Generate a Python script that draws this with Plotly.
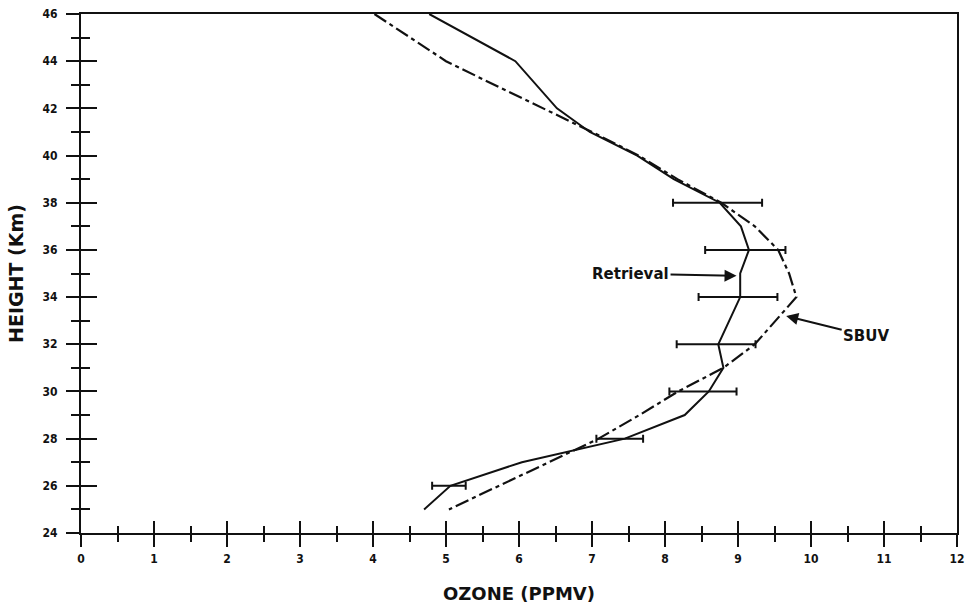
import plotly.graph_objects as go

# Ozone profiles: height (km) vs. mixing ratio (ppmv)
retrieval_height = [46, 44, 42, 41, 40, 39, 38, 37, 36, 35, 34, 33, 32, 31, 30, 29, 28, 27, 26, 25]
retrieval_ozone = [4.77, 5.95, 6.52, 6.97, 7.62, 8.12, 8.75, 9.04, 9.15, 9.03, 9.03, 8.88, 8.73, 8.80,
                   8.60, 8.27, 7.45, 6.04, 5.06, 4.70]

sbuv_height = [46, 44, 43, 42, 41, 40, 39, 38, 37, 36, 35, 34, 33, 32, 31, 30, 29, 28, 27, 26, 25]
sbuv_ozone = [4.02, 5.00, 5.66, 6.33, 7.00, 7.64, 8.17, 8.77, 9.23, 9.55, 9.70, 9.80, 9.52, 9.23,
              8.80, 8.18, 7.65, 7.09, 6.41, 5.72, 5.04]

# Retrieval uncertainty (half-width, ppmv) at even heights
err_height = [38, 36, 34, 32, 30, 28, 26]
err_center = [8.72, 9.10, 9.00, 8.70, 8.52, 7.38, 5.04]
err_half = [0.61, 0.55, 0.54, 0.54, 0.46, 0.32, 0.23]

x_ticks = list(range(0, 13))
y_ticks = list(range(24, 47, 2))

BLACK = "#111111"
TICK_FONT = dict(family="DejaVu Sans Condensed", size=12, color=BLACK, weight="bold")
NOTE_FONT = dict(family="DejaVu Sans", size=15, color=BLACK, weight="bold")

fig = go.Figure()

fig.add_trace(go.Scatter(
    x=retrieval_ozone, y=retrieval_height, mode="lines", name="Retrieval",
    line=dict(color=BLACK, width=2), showlegend=False,
))
fig.add_trace(go.Scatter(
    x=sbuv_ozone, y=sbuv_height, mode="lines", name="SBUV",
    line=dict(color=BLACK, width=2.2, dash="14px,4px,4px,4px"), showlegend=False,
))
fig.add_trace(go.Scatter(
    x=err_center, y=err_height, mode="markers", marker=dict(size=1, color="rgba(0,0,0,0)"),
    error_x=dict(type="data", array=err_half, visible=True, color=BLACK, thickness=2, width=4),
    showlegend=False, hoverinfo="skip",
))
# Invisible trace to carry the inner tick axes
fig.add_trace(go.Scatter(
    x=[0], y=[24], xaxis="x2", yaxis="y2", mode="markers",
    marker=dict(size=1, color="rgba(0,0,0,0)"), showlegend=False, hoverinfo="skip",
))

axis_common = dict(
    showgrid=False, zeroline=False, showline=True, linecolor=BLACK, linewidth=2,
    automargin=False, ticklabeloverflow="allow",
)

fig.update_layout(
    width=967, height=609,
    margin=dict(l=81, r=10, t=14, b=76),
    plot_bgcolor="white", paper_bgcolor="white",
    xaxis=dict(
        **axis_common, range=[0, 12], mirror=True,
        tickmode="array", tickvals=x_ticks, ticktext=[str(v) for v in x_ticks],
        ticks="outside", ticklen=12, tickwidth=2, tickcolor=BLACK,
        minor=dict(dtick=0.5, ticks="outside", ticklen=7, tickwidth=2, tickcolor=BLACK),
        tickfont=TICK_FONT, ticklabelstandoff=2,
        title=dict(text="OZONE (PPMV)", standoff=22,
                   font=dict(family="DejaVu Sans", size=18, color=BLACK, weight="bold")),
    ),
    yaxis=dict(
        **axis_common, range=[24, 46], mirror=True,
        tickmode="array", tickvals=y_ticks, ticktext=[str(v) for v in y_ticks],
        ticks="outside", ticklen=13, tickwidth=2, tickcolor=BLACK,
        minor=dict(dtick=1, ticks="outside", ticklen=8, tickwidth=2, tickcolor=BLACK),
        tickfont=TICK_FONT, ticklabelstandoff=6,
        title=dict(text="HEIGHT (Km)", standoff=14,
                   font=dict(family="DejaVu Sans", size=19, color=BLACK, weight="bold")),
    ),
    xaxis2=dict(
        overlaying="x", anchor="y2", side="bottom", range=[0, 12], automargin=False,
        showgrid=False, zeroline=False, showline=False, showticklabels=False,
        tickmode="array", tickvals=x_ticks,
        ticks="inside", ticklen=12, tickwidth=2, tickcolor=BLACK,
        minor=dict(dtick=0.5, ticks="inside", ticklen=7, tickwidth=2, tickcolor=BLACK),
    ),
    yaxis2=dict(
        overlaying="y", anchor="x2", side="left", range=[24, 46], automargin=False,
        showgrid=False, zeroline=False, showline=False, showticklabels=False,
        tickmode="array", tickvals=y_ticks,
        ticks="inside", ticklen=16, tickwidth=2, tickcolor=BLACK,
        minor=dict(dtick=1, ticks="inside", ticklen=9, tickwidth=2, tickcolor=BLACK),
    ),
    annotations=[
        dict(x=8.98, y=34.9, xref="x", yref="y", text="Retrieval",
             showarrow=True, arrowhead=2, arrowsize=1.2, arrowwidth=2, arrowcolor=BLACK,
             ax=-106, ay=-2, font=NOTE_FONT),
        dict(x=9.66, y=33.2, xref="x", yref="y", text="SBUV",
             showarrow=True, arrowhead=2, arrowsize=1.2, arrowwidth=2, arrowcolor=BLACK,
             ax=80, ay=20, font=NOTE_FONT),
    ],
)

fig.write_html("out.html")
